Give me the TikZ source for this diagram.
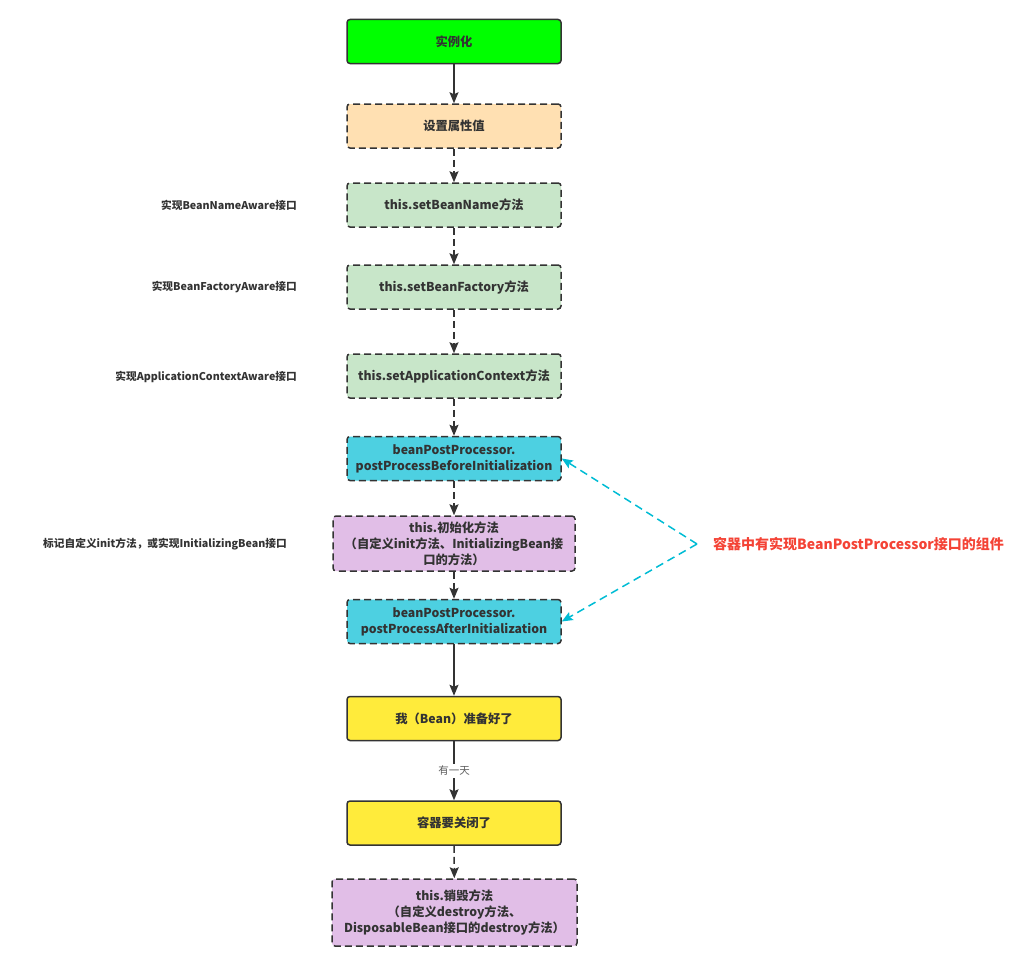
\documentclass[tikz,border=0pt]{standalone}
\usepackage{fontspec}
\setmainfont{Noto Sans CJK SC}
\usetikzlibrary{arrows.meta}
\definecolor{linec}{HTML}{333333}
\definecolor{textc}{HTML}{333333}
\definecolor{cgreen}{HTML}{00FF00}
\definecolor{cpeach}{HTML}{FFE0B2}
\definecolor{clgreen}{HTML}{C8E6C9}
\definecolor{ccyan}{HTML}{4DD0E1}
\definecolor{clav}{HTML}{E1BEE7}
\definecolor{cyellow}{HTML}{FFEB3B}
\definecolor{cred}{HTML}{F44336}
\definecolor{carrow}{HTML}{00BCD4}
\begin{document}
\begin{tikzpicture}[x=1pt,y=-1pt,
  box/.style={draw=linec, line width=1.5pt, rounded corners=3pt, minimum width=214pt, minimum height=44pt, text=textc, align=center, inner sep=2pt, font=\bfseries\fontsize{12.3}{16}\selectfont},
  dbox/.style={box, dash pattern=on 7pt off 4pt},
  arr/.style={draw=linec, line width=1.5pt, -{Stealth[length=11pt,width=9pt,inset=2pt]}},
  darr/.style={arr, dash pattern=on 7pt off 4pt},
  carr/.style={draw=carrow, line width=1.5pt, dash pattern=on 8pt off 5pt, -{Stealth[length=11pt,width=9pt,inset=2pt]}},
  side/.style={text=textc, font=\bfseries\fontsize{10.7}{13}\selectfont, inner sep=0pt},
]
\useasboundingbox (0,0) rectangle (1024,966);

\node[box, fill=cgreen] (inst) at (454,41.5) {实例化};
\node[dbox, fill=cpeach] (prop) at (454,126) {设置属性值};
\node[dbox, fill=clgreen] (name) at (454,205) {this.setBeanName方法};
\node[dbox, fill=clgreen] (fact) at (454,287) {this.setBeanFactory方法};
\node[dbox, fill=clgreen] (ctx) at (454,376) {this.setApplicationContext方法};
\node[dbox, fill=ccyan] (before) at (454,458.5) {beanPostProcessor.\\postProcessBeforeInitialization};
\node[dbox, fill=clav, minimum width=242pt, minimum height=55pt] (init) at (454,543.5) {this.初始化方法\\（自定义init方法、InitializingBean接\\口的方法）};
\node[dbox, fill=ccyan] (after) at (454,621.5) {beanPostProcessor.\\postProcessAfterInitialization};
\node[box, fill=cyellow] (ready) at (454,718.5) {我（Bean）准备好了};
\node[box, fill=cyellow] (close) at (454,823) {容器要关闭了};
\node[dbox, fill=clav, minimum width=245pt, minimum height=67pt] (destroy) at (454.5,912.5) {this.销毁方法\\（自定义destroy方法、\\DisposableBean接口的destroy方法）};

\draw[arr] (inst) -- (prop);
\draw[darr] (prop) -- (name);
\draw[darr] (name) -- (fact);
\draw[darr] (fact) -- (ctx);
\draw[darr] (ctx) -- (before);
\draw[darr] (before) -- (init);
\draw[darr] (init) -- (after);
\draw[arr] (after) -- (ready);
\draw[arr] (ready) -- node[fill=white, text=textc!80, font=\fontsize{10.5}{12}\selectfont, inner sep=2pt] {有一天} (close);
\draw[darr] (close) -- (destroy);

\node[side, anchor=east] (l1) at (297,205) {实现BeanNameAware接口};
\node[side, anchor=east] (l2) at (297,287) {实现BeanFactoryAware接口};
\node[side, anchor=east] (l3) at (297,377) {实现ApplicationContextAware接口};
\node[side, anchor=west] (l4) at (43,544) {标记自定义init方法，或实现InitializingBean接口};

\coordinate (tip) at (697,544);
\draw[carr] (tip) -- (before.east);
\draw[carr] (tip) -- (after.east);
\node[anchor=west, text=cred, font=\bfseries\fontsize{14}{16}\selectfont, inner sep=0pt] (red) at (713,544) {容器中有实现BeanPostProcessor接口的组件};
\end{tikzpicture}
\end{document}
